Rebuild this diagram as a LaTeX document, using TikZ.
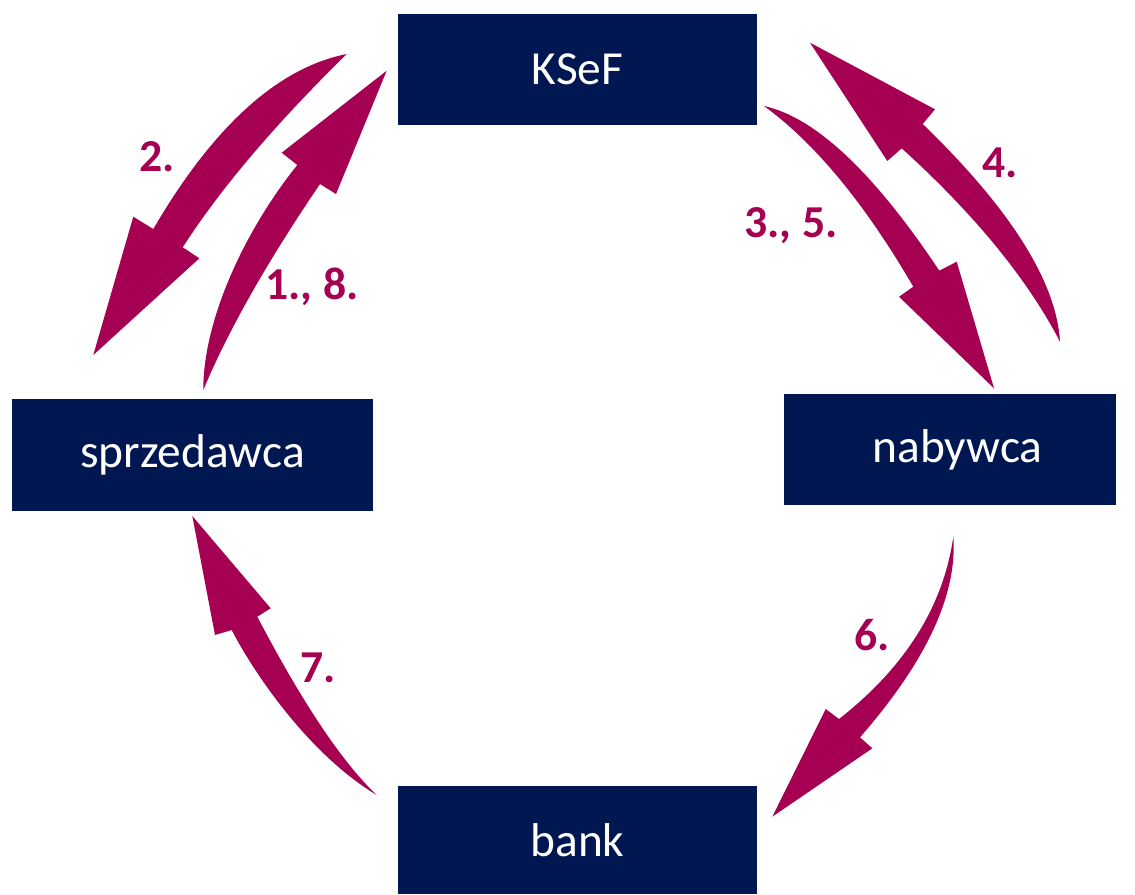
\documentclass[tikz,border=0pt]{standalone}
\usepackage{fontspec}
\setsansfont{Carlito}
\usetikzlibrary{positioning}

\definecolor{granat}{RGB}{0,23,82}
\definecolor{purpura}{RGB}{165,0,82}

\tikzset{
    box/.style={fill=granat, text=white, inner sep=0pt,
        font=\sffamily\fontsize{27}{30}\selectfont,
        minimum width=7.18cm, minimum height=2.22cm},
    krok/.style={text=purpura, font=\sffamily\bfseries\fontsize{26}{30}\selectfont},
    strzalka/.style={fill=purpura}
}

\begin{document}
\begin{tikzpicture}[x=0.02cm,y=-0.02cm]
    \useasboundingbox (0,0) rectangle (1135,894);

    % boxes
    \node[box] (ksef) at (577.5,69.5) {KSeF};
    \node[box, minimum width=7.22cm, minimum height=2.24cm] (sprzedawca) at (192.5,455) {sprzedawca};
    \node[box, minimum width=6.64cm] (nabywca) at (950,449.5) {\hspace*{0.3cm}nabywca};
    \node[box, minimum height=2.16cm] (bank) at (577.5,840) {bank};

    % 2.  KSeF -> sprzedawca
    \fill[strzalka] (346.7,54) .. controls (277.8,67.8) and (213.4,126.1) .. (153.3,229)
        -- (133.3,216.7) -- (93.3,355) -- (199.3,258.3) -- (182.7,247.3)
        .. controls (220.3,188.8) and (275,124.4) .. (346.7,54) -- cycle;
    % 1., 8.  sprzedawca -> KSeF
    \fill[strzalka] (203.3,390) .. controls (203,320) and (245,230) .. (297.3,165)
        -- (281.7,152.7) -- (386.7,70.7) -- (336,194) -- (320,184)
        .. controls (266.9,262.1) and (228,330.8) .. (203.3,390) -- cycle;
    % 3., 5.  KSeF -> nabywca
    \fill[strzalka] (764,106) .. controls (815.3,117.3) and (873.7,172.2) .. (939.3,270.7)
        -- (956.7,261.7) -- (994,388.3) -- (899,296.7) -- (913.3,286.7)
        .. controls (864.7,203.2) and (814.9,143) .. (764,106) -- cycle;
    % 4.  nabywca -> KSeF
    \fill[strzalka] (1060,341.7) .. controls (1056.4,281.7) and (1010.6,209.1) .. (922.7,124)
        -- (935,109.3) -- (810,42.7) -- (887.3,161) -- (901.7,148.3)
        .. controls (974.4,214.2) and (1027.2,278.6) .. (1060,341.7) -- cycle;
    % 6.  nabywca -> bank
    \fill[strzalka] (953.3,536.7) .. controls (957.5,594.4) and (926.4,661.2) .. (860,737.3)
        -- (872.3,748.3) -- (772.3,816.7) -- (825.7,709) -- (839,719)
        .. controls (905.3,667) and (943.4,606.3) .. (953.3,536.7) -- cycle;
    % 7.  bank -> sprzedawca
    \fill[strzalka] (376.7,795) .. controls (342.4,762.6) and (302.6,703.2) .. (257.3,616.7)
        -- (270.7,608.3) -- (192.3,516) -- (215,635) -- (231.7,630)
        .. controls (255,675) and (310,755) .. (376.7,795) -- cycle;

    % step labels
    \node[krok] (k2) at (157,157) {2.};
    \node[krok] (k18) at (312,287) {1., 8.};
    \node[krok] (k35) at (791,226) {3., 5.};
    \node[krok] (k4) at (1000,163) {4.};
    \node[krok] (k6) at (872,635) {6.};
    \node[krok] (k7) at (318,668) {7.};
\end{tikzpicture}
\end{document}
